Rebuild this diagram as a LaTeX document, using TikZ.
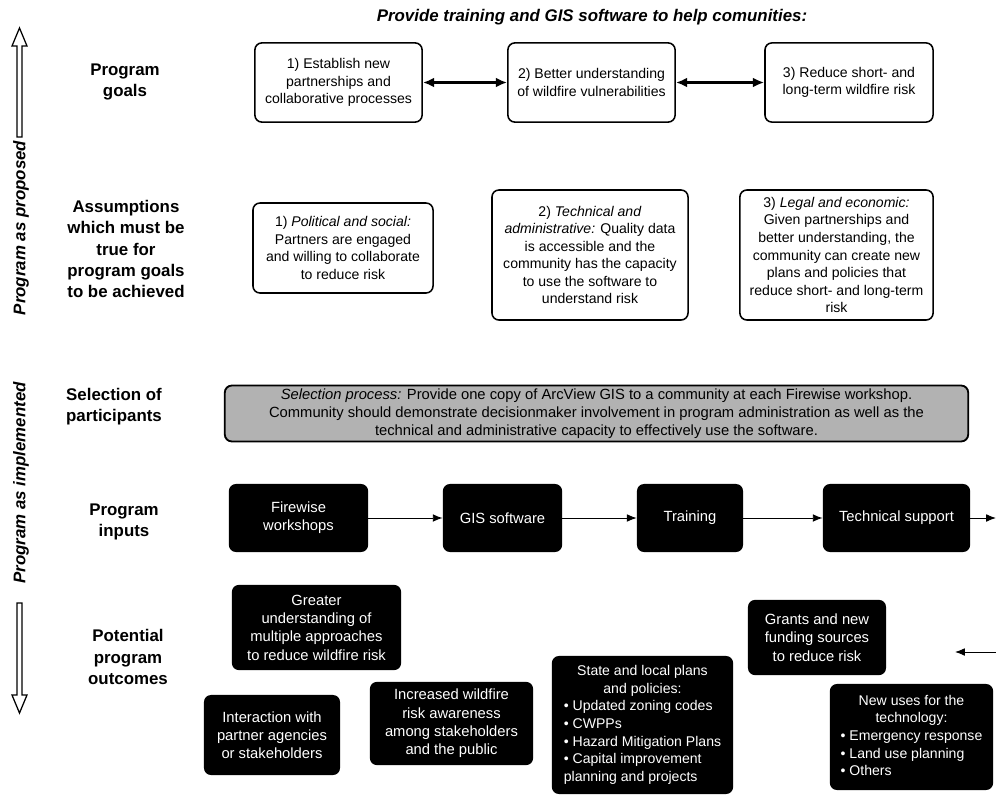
\documentclass[tikz,border=0pt]{standalone}
\usepackage{fontspec}
\setmainfont{Liberation Sans}
\usetikzlibrary{arrows.meta}
\tikzset{
  goalbox/.style={draw, line width=1.1pt, rounded corners=5pt, align=center, inner sep=2pt, font=\fontsize{10}{12.5}\selectfont},
  inbox/.style={fill=black, text=white, rounded corners=5pt, align=center, inner sep=2pt, font=\fontsize{10.5}{13}\selectfont},
  selbox/.style={draw, fill=gray!60, line width=1.3pt, rounded corners=5pt, align=center, inner sep=2pt, font=\fontsize{10.5}{13}\selectfont},
  rowlabel/.style={align=center, font=\fontsize{12}{15}\selectfont\bfseries},
  sidelabel/.style={rotate=90, font=\fontsize{12}{14}\selectfont\bfseries\itshape},
  link/.style={-{Latex[length=7pt,width=5.5pt]}, line width=0.7pt},
  twoway/.style={{Latex[length=8pt,width=7pt]}-{Latex[length=8pt,width=7pt]}, line width=1.6pt},
  hollow/.style={line width=0.9pt, line join=miter},
}
\begin{document}
\begin{tikzpicture}[x=0.025cm, y=-0.025cm]
  \useasboundingbox (0,0) rectangle (996,796);

  % title and side labels
  \node[font=\fontsize{12}{14}\selectfont\bfseries\itshape] (title) at (592,17) {Provide training and GIS software to help comunities:};
  \node[sidelabel] (proposed) at (21,228) {Program as proposed};
  \node[sidelabel] (implemented) at (21,483) {Program as implemented};
  \draw[hollow] (17,137) -- (17,46) -- (12,46) -- (19.5,28) -- (27,46) -- (22,46) -- (22,137) -- cycle;
  \draw[hollow] (17,603) -- (17,695) -- (12,695) -- (19.5,713) -- (27,695) -- (22,695) -- (22,603) -- cycle;

  % row labels
  \node[rowlabel] (lgoals) at (125,82) {Program\\goals};
  \node[rowlabel] (lassume) at (126,249) {Assumptions\\which must be\\true for\\program goals\\to be achieved};
  \node[rowlabel, align=left] (lselect) at (114,407) {Selection of\\participants};
  \node[rowlabel] (linputs) at (124,522) {Program\\inputs};
  \node[rowlabel] (loutcomes) at (128,657) {Potential\\program\\outcomes};

  % program goals
  \node[goalbox, minimum width=4.18cm, minimum height=1.98cm] (goal1) at (338.5,82.5) {1) Establish new\\partnerships and\\collaborative processes};
  \node[goalbox, minimum width=4.18cm, minimum height=1.98cm] (goal2) at (591.5,82.5) {2) Better understanding\\of wildfire vulnerabilities};
  \node[goalbox, minimum width=4.2cm, minimum height=1.98cm] (goal3) at (849,82.5) {3) Reduce short- and\\long-term wildfire risk};
  \draw[twoway] (goal1) -- (goal2);
  \draw[twoway] (goal2) -- (goal3);

  % assumptions
  \node[goalbox, minimum width=4.5cm, minimum height=2.25cm] (assume1) at (343,248) {1) \textit{Political and social:}\\Partners are engaged\\and willing to collaborate\\to reduce risk};
  \node[goalbox, minimum width=4.9cm, minimum height=3.25cm] (assume2) at (590,255) {2) \textit{Technical and}\\\textit{administrative:} Quality data\\is accessible and the\\community has the capacity\\to use the software to\\understand risk};
  \node[goalbox, minimum width=4.83cm, minimum height=3.25cm] (assume3) at (836.5,255) {3) \textit{Legal and economic:}\\Given partnerships and\\better understanding, the\\community can create new\\plans and policies that\\reduce short- and long-term\\risk};

  % selection
  \node[selbox, minimum width=18.58cm, minimum height=1.33cm] (select) at (596.5,413.5) {\textit{Selection process:} Provide one copy of ArcView GIS to a community at each Firewise workshop.\\Community should demonstrate decisionmaker involvement in program administration as well as the\\technical and administrative capacity to effectively use the software.};

  % inputs
  \node[inbox, minimum width=3.48cm, minimum height=1.7cm] (input1) at (298.5,518) {Firewise\\workshops};
  \node[inbox, minimum width=2.98cm, minimum height=1.7cm] (input2) at (502.5,518) {GIS software};
  \node[inbox, minimum width=2.65cm, minimum height=1.7cm] (input3) at (690,518) {Training};
  \node[inbox, minimum width=3.68cm, minimum height=1.7cm] (input4) at (896.5,518) {Technical support};
  \coordinate (inout) at (996,518);
  \draw[link] (input1) -- (input2);
  \draw[link] (input2) -- (input3);
  \draw[link] (input3) -- (input4);
  \draw[link] (input4) -- (inout);

  % outcomes
  \node[inbox, minimum width=4.23cm, minimum height=2.13cm] (out1) at (316.5,627.5) {Greater\\understanding of\\multiple approaches\\to reduce wildfire risk};
  \node[inbox, minimum width=3.4cm, minimum height=2cm] (out2) at (272,735) {Interaction with\\partner agencies\\or stakeholders};
  \node[inbox, minimum width=4.08cm, minimum height=2.08cm] (out3) at (451.5,723.5) {Increased wildfire\\risk awareness\\among stakeholders\\and the public};
  \node[inbox, minimum width=4.53cm, minimum height=3.45cm, font=\fontsize{10}{12.5}\selectfont] (out4) at (642.5,725) {\begin{tabular}{@{}l@{}}\multicolumn{1}{@{}c@{}}{State and local plans}\\\multicolumn{1}{@{}c@{}}{and policies:}\\\textbullet\ Updated zoning codes\\\textbullet\ CWPPs\\\textbullet\ Hazard Mitigation Plans\\\textbullet\ Capital improvement\\planning and projects\end{tabular}};
  \node[inbox, minimum width=3.45cm, minimum height=1.88cm] (out5) at (817,637.5) {Grants and new\\funding sources\\to reduce risk};
  \node[inbox, minimum width=4.08cm, minimum height=2.65cm, font=\fontsize{10}{12.5}\selectfont] (out6) at (911.5,737) {\begin{tabular}{@{}l@{}}\multicolumn{1}{@{}c@{}}{New uses for the}\\\multicolumn{1}{@{}c@{}}{technology:}\\\textbullet\ Emergency response\\\textbullet\ Land use planning\\\textbullet\ Others\end{tabular}};
  \coordinate (backin) at (996,652);
  \coordinate (backtip) at (955,652);
  \draw[link] (backin) -- (backtip);
\end{tikzpicture}
\end{document}
